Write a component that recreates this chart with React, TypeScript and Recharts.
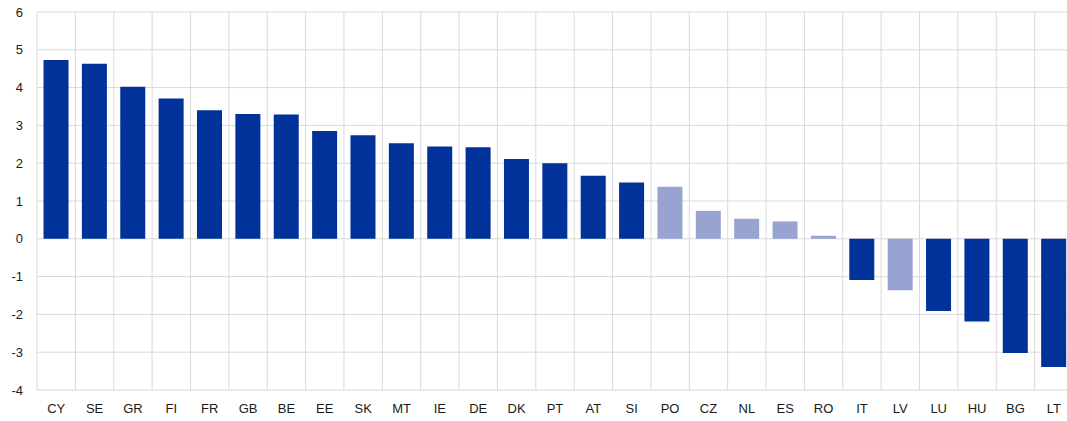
import React from 'react';
import { BarChart, Bar, XAxis, YAxis, CartesianGrid, Cell } from 'recharts';

const countries = [
  'CY', 'SE', 'GR', 'FI', 'FR', 'GB', 'BE', 'EE', 'SK', 'MT', 'IE', 'DE', 'DK', 'PT',
  'AT', 'SI', 'PO', 'CZ', 'NL', 'ES', 'RO', 'IT', 'LV', 'LU', 'HU', 'BG', 'LT'
];

const values = [
  4.73, 4.63, 4.02, 3.71, 3.40, 3.30, 3.29, 2.85, 2.74, 2.53, 2.44, 2.42, 2.11, 2.00,
  1.67, 1.49, 1.38, 0.74, 0.53, 0.46, 0.08, -1.09, -1.36, -1.91, -2.19, -3.02, -3.39
];

// countries drawn in the lighter shade
const lightCountries = ['PO', 'CZ', 'NL', 'ES', 'RO', 'LV'];

const yTicks = [-4, -3, -2, -1, 0, 1, 2, 3, 4, 5, 6];

const DARK = '#003299';
const LIGHT = '#99a3d1';

const data = countries.map((c, i) => ({ country: c, value: values[i] }));

const App: React.FC = () => {
  // vertical grid lines sit on category boundaries, not centres
  const verticalGen = ({ offset }: any) => {
    const step = offset.width / countries.length;
    return Array.from({ length: countries.length + 1 }, (_, i) => offset.left + i * step);
  };

  return (
    <div
      style={{
        position: 'fixed',
        left: 0,
        top: 0,
        width: 1067,
        height: 421,
        overflow: 'hidden',
        background: '#fff',
        fontFamily: '"Liberation Sans", Arial, sans-serif',
      }}
    >
      <BarChart
        width={1073}
        height={421}
        data={data}
        margin={{ top: 12, right: 0, left: 0, bottom: 0 }}
        barCategoryGap="17%"
      >
        <CartesianGrid
          stroke="#d9d9d9"
          strokeWidth={1}
          verticalCoordinatesGenerator={verticalGen}
        />
        <XAxis
          dataKey="country"
          height={31}
          axisLine={false}
          tickLine={false}
          tickMargin={8}
          interval={0}
          tick={{ fontSize: 13, fill: '#1a1a1a' }}
        />
        <YAxis
          width={37}
          domain={[-4, 6]}
          ticks={yTicks}
          axisLine={false}
          tickLine={false}
          tickMargin={8}
          interval={0}
          tick={{ fontSize: 13, fill: '#1a1a1a' }}
        />
        <Bar dataKey="value" isAnimationActive={false}>
          {data.map((d) => (
            <Cell key={d.country} fill={lightCountries.includes(d.country) ? LIGHT : DARK} />
          ))}
        </Bar>
      </BarChart>
    </div>
  );
};

export default App;
